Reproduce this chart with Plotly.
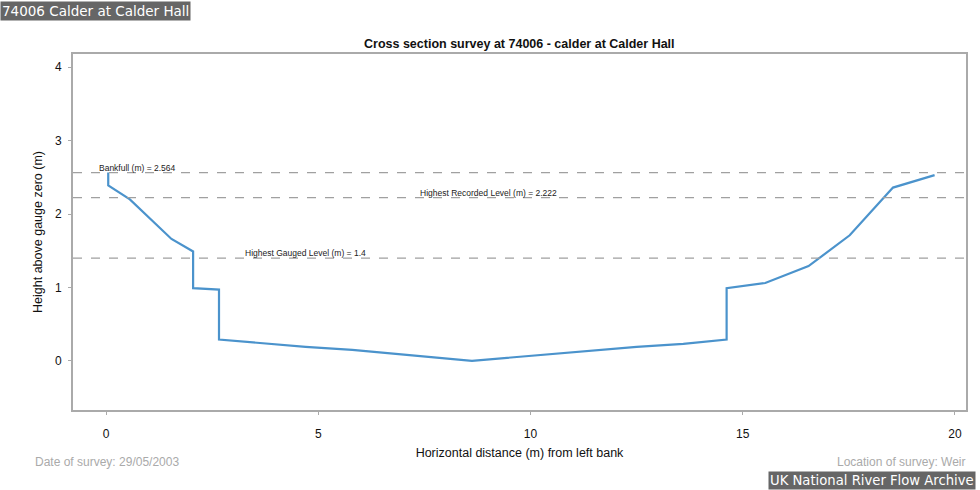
import plotly.graph_objects as go

distance = [0.05, 0.05, 0.56, 1.54, 2.05, 2.05, 2.66, 2.66, 4.7, 5.8, 8.62,
            10.4, 12.5, 13.6, 14.62, 14.62, 15.53, 16.55, 17.52, 18.54, 19.52]
height = [2.564, 2.39, 2.2, 1.66, 1.49, 0.99, 0.97, 0.29, 0.19, 0.15, 0.0,
          0.09, 0.19, 0.23, 0.29, 0.99, 1.06, 1.29, 1.71, 2.36, 2.53]

level_names = ["Bankfull (m) = 2.564", "Highest Recorded Level (m) = 2.222",
               "Highest Gauged Level (m) = 1.4"]
level_values = [2.564, 2.222, 1.4]
label_x = [0.73, 9.0, 4.7]

x_ticks = [0, 5, 10, 15, 20]
y_ticks = [0, 1, 2, 3, 4]

fig = go.Figure()

fig.add_trace(go.Scatter(x=distance, y=height, mode="lines",
                         line=dict(color="#4b93cc", width=2.2),
                         hoverinfo="x+y", showlegend=False))

for name, val, lx in zip(level_names, level_values, label_x):
    fig.add_hline(y=val, line=dict(color="#a0a0a0", width=1.2, dash="dash"))
    fig.add_annotation(x=lx, y=val, text=name, showarrow=False, yshift=5,
                       font=dict(family="Liberation Sans", size=8.5, color="#222"))

fig.add_annotation(xref="paper", yref="paper", x=0.5, y=1.0, yshift=19,
                   text="<b>Cross section survey at 74006 - calder at Calder Hall</b>",
                   showarrow=False, font=dict(family="Liberation Sans", size=12.5, color="#111"))

# header / footer boxes
fig.add_annotation(xref="paper", yref="paper", x=-73 / 895, y=1.0, yshift=43,
                   xanchor="left", yanchor="middle", text="74006 Calder at Calder Hall",
                   showarrow=False, bgcolor="#666666", borderpad=1,
                   font=dict(family="DejaVu Sans", size=13.5, color="#ffffff"))
fig.add_annotation(xref="paper", yref="paper", x=1 + 10 / 895, y=0, yshift=-70,
                   xanchor="right", yanchor="middle", text="UK National River Flow Archive",
                   showarrow=False, bgcolor="#666666", borderpad=1,
                   font=dict(family="DejaVu Sans", size=13.2, color="#ffffff"))
fig.add_annotation(xref="paper", yref="paper", x=-40 / 895, y=0, yshift=-52,
                   xanchor="left", yanchor="middle", text="Date of survey: 29/05/2003",
                   showarrow=False, font=dict(family="Liberation Sans", size=12, color="#aaaaaa"))
fig.add_annotation(xref="paper", yref="paper", x=1 + 2 / 895, y=0, yshift=-52,
                   xanchor="right", yanchor="middle", text="Location of survey: Weir",
                   showarrow=False, font=dict(family="Liberation Sans", size=12, color="#aaaaaa"))

fig.update_xaxes(range=[-0.78, 20.26], tickvals=x_ticks, showgrid=False, zeroline=False,
                 showline=True, linecolor="#aaaaaa", linewidth=2, mirror=True,
                 ticks="outside", ticklen=3, tickcolor="#aaaaaa", ticklabelstandoff=9,
                 tickfont=dict(family="Liberation Sans", size=12, color="#111"),
                 title=dict(text="Horizontal distance (m) from left bank", standoff=8,
                            font=dict(family="Liberation Sans", size=12.5, color="#111")))
fig.update_yaxes(range=[-0.67, 4.18], tickvals=y_ticks, showgrid=False, zeroline=False,
                 showline=True, linecolor="#aaaaaa", linewidth=2, mirror=True,
                 ticks="outside", ticklen=3, tickcolor="#aaaaaa", ticklabelstandoff=4,
                 tickfont=dict(family="Liberation Sans", size=12, color="#111"),
                 title=dict(text="Height above gauge zero (m)", standoff=10,
                            font=dict(family="Liberation Sans", size=12.5, color="#111")))

fig.update_layout(width=980, height=490, paper_bgcolor="white", plot_bgcolor="white",
                  margin=dict(l=73, r=12, t=54, b=80))

fig.write_html("out.html", config={"displayModeBar": False},
               post_script="document.body.style.margin='0';")
